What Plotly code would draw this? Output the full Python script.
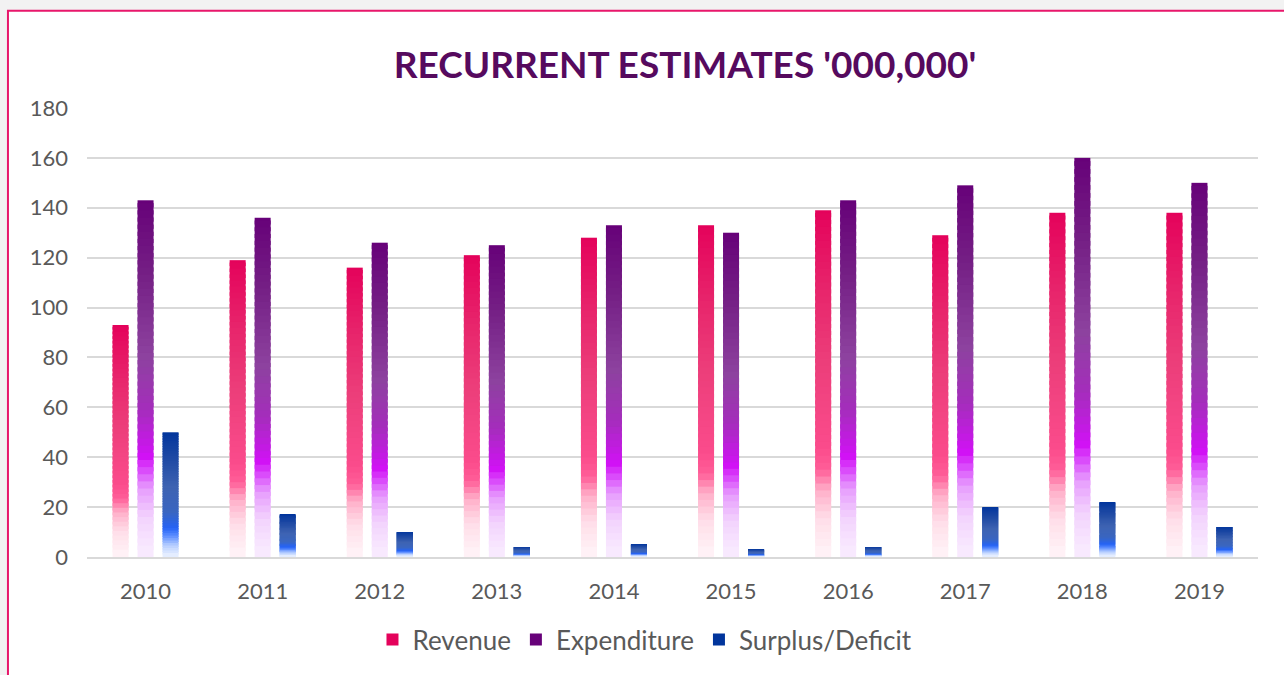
import plotly.graph_objects as go

years = ["2010", "2011", "2012", "2013", "2014", "2015", "2016", "2017", "2018", "2019"]
revenue = [93, 119, 116, 121, 128, 133, 139, 129, 138, 138]
expenditure = [143, 136, 126, 125, 133, 130, 143, 149, 160, 150]
surplus = [50, 17, 10, 4, 5, 3, 4, 20, 22, 12]
y_ticks = [0, 20, 40, 60, 80, 100, 120, 140, 160, 180]

# gradient stops: (fraction of bar height from bottom, colour)
grad = {
    "Revenue": [(0.0, "#FFF3F7"), (0.10, "#FFDDE8"), (0.18, "#FFAFC9"), (0.24, "#FF5E98"),
                (0.30, "#FB4C8C"), (0.55, "#EC3E7A"), (0.78, "#E7226A"), (1.0, "#E4005A")],
    "Expenditure": [(0.0, "#F9ECFE"), (0.10, "#F2D2FD"), (0.18, "#E79CFD"), (0.23, "#DA4CFB"),
                    (0.27, "#D112F5"), (0.40, "#A52DBC"), (0.55, "#8D429F"), (0.78, "#751F85"), (1.0, "#660078")],
    "Surplus/Deficit": [(0.0, "#EAF1FF"), (0.08, "#B8CFFF"), (0.16, "#5A8CFF"), (0.22, "#2563F5"),
                        (0.35, "#3A66C0"), (0.55, "#3E63B2"), (0.78, "#1F4AA4"), (1.0, "#00349C")],
}

def hex2rgb(h):
    h = h.lstrip("#")
    return tuple(int(h[i:i + 2], 16) for i in (0, 2, 4))

def color_at(stops, f):
    for (f0, c0), (f1, c1) in zip(stops[:-1], stops[1:]):
        if f0 <= f <= f1:
            t = (f - f0) / (f1 - f0) if f1 > f0 else 0
            a, b = hex2rgb(c0), hex2rgb(c1)
            r = [round(a[i] + (b[i] - a[i]) * t) for i in range(3)]
            return "rgb(%d,%d,%d)" % tuple(r)
    return stops[-1][1]

series = [("Revenue", revenue, -0.2818), ("Expenditure", expenditure, -0.0683), ("Surplus/Deficit", surplus, 0.1452)]
bar_w = 0.1366
N = 50

fig = go.Figure()
for name, vals, off in series:
    stops = grad[name]
    for k in range(N - 1, -1, -1):
        f0 = k / N
        f1 = min((k + 1.6) / N, 1.0)  # slight overlap hides seams between bands
        col = color_at(stops, (k + 0.5) / N)
        fig.add_trace(go.Bar(
            x=years,
            y=[v * (f1 - f0) for v in vals],
            base=[v * f0 for v in vals],
            offset=off, width=bar_w,
            marker=dict(color=col, line=dict(width=0)),
            name=name, legendgroup=name, showlegend=(k == N - 1),
            hoverinfo="skip",
        ))

fig.update_layout(
    width=1284, height=675,
    barmode="overlay",
    paper_bgcolor="#F2F2F2",
    plot_bgcolor="rgba(0,0,0,0)",
    margin=dict(l=87, r=26, t=108, b=115),
    font=dict(family="Lato, sans-serif", color="#595959", size=22),
    title=dict(text="RECURRENT ESTIMATES '000,000'", x=0.5335, xanchor="center", y=0.903, yanchor="middle",
               font=dict(family="Lato, sans-serif", size=37, color="#560A5E", weight="bold")),
    xaxis=dict(type="category", range=[-0.5, 9.5], showgrid=False, showline=True, linecolor="#D9D9D9",
               linewidth=2, ticks="", ticklabelstandoff=14, tickfont=dict(size=22, color="#595959")),
    yaxis=dict(range=[0, 180], tickvals=y_ticks, showgrid=True, gridcolor="#D9D9D9", gridwidth=1.5,
               zeroline=False, showline=False, ticks="", ticklabelstandoff=18,
               tickfont=dict(size=22, color="#595959")),
    legend=dict(orientation="h", x=0.4765, xanchor="center", y=-0.184, yanchor="middle",
                font=dict(size=26, color="#595959"), itemwidth=30, traceorder="normal",
                bgcolor="rgba(0,0,0,0)"),
    shapes=[dict(type="rect", xref="paper", yref="paper", x0=-0.0675, x1=1.1, y0=-0.3, y1=1.2168,
                 fillcolor="white", line=dict(color="#E8176B", width=2), layer="below")],
)

fig.write_html("out.html", config={"displayModeBar": False},
               post_script="document.body.style.margin='0';")
